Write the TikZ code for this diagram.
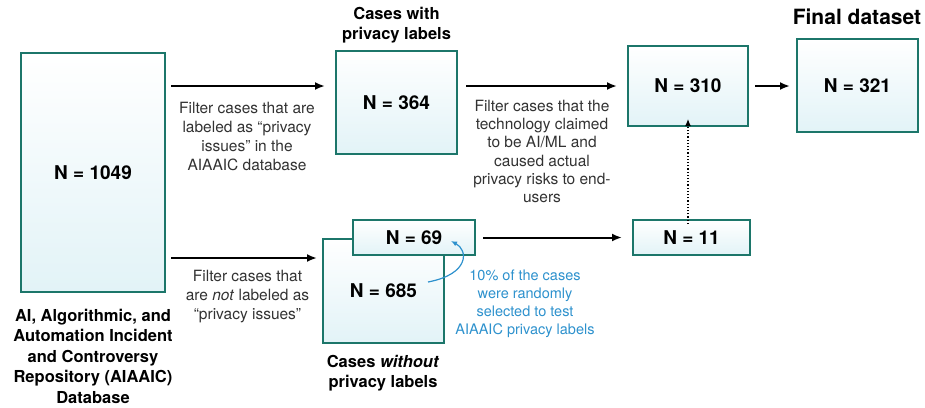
\documentclass[tikz,border=0pt]{standalone}
\usepackage{fontspec}
\setmainfont{TeX Gyre Heros}
\usetikzlibrary{arrows.meta,positioning}

\definecolor{boxline}{RGB}{28,118,106}
\definecolor{boxfill}{RGB}{226,243,247}
\definecolor{notecol}{RGB}{45,145,205}
\definecolor{textcol}{RGB}{50,50,50}

\tikzset{
  basic/.style   = {draw=boxline, line width=2pt, rectangle, inner sep=0pt,
                    top color=white, bottom color=boxfill,
                    font=\fontsize{19}{22}\selectfont\bfseries},
  filter/.style  = {align=center, text=textcol, font=\fontsize{15.5}{19}\selectfont},
  caption/.style = {align=center, font=\fontsize{16.5}{20.5}\selectfont\bfseries},
  note/.style    = {align=center, text=notecol, font=\fontsize{14.5}{18}\selectfont},
  arr/.style     = {-{Latex[length=10pt,width=8pt]}, line width=2pt}
}

\begin{document}
\begin{tikzpicture}[x=1pt, y=-1pt]
\useasboundingbox (0,0) rectangle (925,407);

% the boxes, one for each count
\node[basic, minimum width=144pt, minimum height=239pt] (c1) at (93,172.5) {N = 1049};
\node[basic, minimum width=121pt, minimum height=103pt] (c2) at (396.5,102.5) {N = 364};
\node[basic, minimum width=120pt, minimum height=80pt]  (c3) at (688,86) {N = 310};
\node[basic, minimum width=121pt, minimum height=93pt]  (c4) at (857.5,85.5) {N = 321};
\node[basic, minimum width=121pt, minimum height=104pt] (c5) at (383.5,291) {N = 685};
\node[basic, minimum width=122pt, minimum height=35pt]  (c6) at (414,237.5) {N = 69};
\node[basic, minimum width=117pt, minimum height=35pt]  (c7) at (691.5,237.5) {N = 11};

% captions above and below the boxes
\node[caption] (l1) at (93,356) {AI, Algorithmic, and\\Automation Incident\\and Controversy\\Repository (AIAAIC)\\Database};
\node[caption] (l2) at (396.5,25) {Cases with\\privacy labels};
\node[caption] (l5) at (383,373) {Cases \emph{without}\\privacy labels};
\node[caption, font=\fontsize{21}{24}\selectfont\bfseries] (l4) at (857,17) {Final dataset};

% the filter steps
\node[filter] (f1) at (247,136) {Filter cases that are\\labeled as “privacy\\issues” in the\\AIAAIC database};
\node[filter, font=\fontsize{15.5}{18.3}\selectfont] (f2) at (542,151.5) {Filter cases that the\\technology claimed\\to be AI/ML and\\caused actual\\privacy risks to end-\\users};
\node[filter] (f3) at (247.5,297) {Filter cases that\\are \emph{not} labeled as\\“privacy issues”};
\node[note] (n1) at (525,304) {10\% of the cases\\were randomly\\selected to test\\AIAAIC privacy labels};

% connectors
\draw[arr] ([xshift=5pt]c1.east |- c3.west) -- ([xshift=-10pt]c2.west |- c3.west);
\draw[arr] ([xshift=8pt]c2.east |- c3.west) -- ([xshift=-10pt]c3.west);
\draw[arr] ([xshift=6pt]c3.east) -- ([xshift=-6pt]c4.west |- c3.east);
\draw[arr] ([xshift=5pt]c1.east |- 0,258) -- ([xshift=-5pt]c5.west |- 0,258);
\draw[arr] ([xshift=7pt]c6.east) -- ([xshift=-10pt]c7.west);
\draw[-{Latex[length=7pt,width=6pt]}, line width=1.2pt, dotted]
  ([yshift=-5pt]c7.north -| c3.south) -- ([yshift=8pt]c3.south);

% the sample that was checked by hand
\coordinate (s1) at (428,282);
\draw[-{Latex[length=6pt,width=5pt]}, line width=1.2pt, notecol]
  (s1) .. controls (470,274) and (468,250) .. (451,241);
\end{tikzpicture}
\end{document}
